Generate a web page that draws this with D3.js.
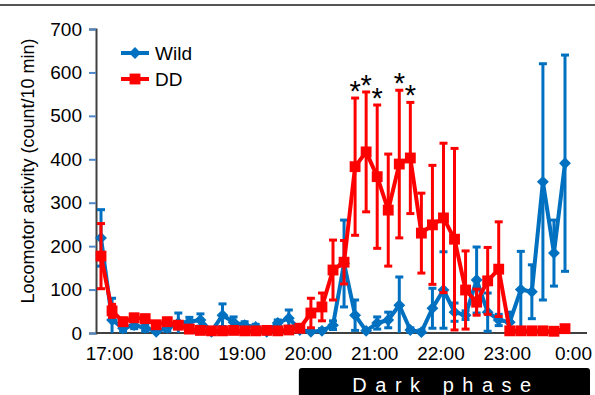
<!DOCTYPE html>
<html>
<head>
<meta charset="utf-8">
<script src="https://cdn.jsdelivr.net/npm/d3@7"></script>
<style>
  body { margin: 0; background: #fff; }
  svg { font-family: "Liberation Sans", Arial, sans-serif; }
</style>
</head>
<body>
<div id="chart"></div>
<script>
// 10-min bins from 17:00 to 0:00
const timeLabels = ["17:00", "18:00", "19:00", "20:00", "21:00", "22:00", "23:00", "0:00"];
const wildMean = [219, 30, 11, 18, 12, 3, 12, 23, 26, 30, 3, 41, 25, 18, 14, 3, 23, 34, 7, 3, 5, 18,
  160, 41, 5, 23, 30, 64, 7, 2, 57, 99, 48, 41, 122, 48, 30, 25, 100, 95, 348, 184, 391];
const wildErr = [65, 50, 8, 8, 8, 8, 8, 23, 10, 14, 5, 26, 12, 8, 6, 5, 7, 19, 5, 5, 5, 10,
  100, 35, 5, 14, 18, 65, 5, 5, 46, 88, 21, 10, 76, 44, 13, 23, 88, 62, 272, 76, 249];
const ddMean = [177, 51, 26, 35, 33, 19, 26, 18, 9, 6, 5, 5, 6, 5, 5, 6, 5, 7, 11, 46,
  60, 145, 163, 383, 417, 360, 283, 389, 403, 230, 249, 265, 216, 99, 71, 120, 147, 5, 5, 5, 5, 4, 10];
const ddErr = [75, 15, 8, 8, 8, 6, 8, 6, 5, 3, 3, 3, 3, 3, 3, 3, 3, 3, 8, 34,
  32, 69, 50, 158, 138, 165, 129, 170, 128, 92, 137, 172, 209, 90, 30, 77, 109, 3, 3, 3, 3, 3, 3];
const starBins = [23, 24, 25, 27, 28];
const yTicks = [0, 100, 200, 300, 400, 500, 600, 700];

const width = 595, height = 395;
const blue = "#0070c0", red = "#ff0000";

const svg = d3.select("#chart").append("svg")
  .attr("width", width)
  .attr("height", height);

const x = d3.scaleLinear().domain([0, ddMean.length - 1]).range([101, 565]);
const y = d3.scaleLinear().domain([0, 700]).range([333, 29]);

// top frame line
svg.append("line")
  .attr("x1", 0).attr("x2", width).attr("y1", 5).attr("y2", 5)
  .attr("stroke", "#555").attr("stroke-width", 2);

// y axis
const yAxis = svg.append("g")
  .attr("transform", "translate(96,0)")
  .call(d3.axisLeft(y).tickValues(yTicks).tickSize(7).tickPadding(7));
yAxis.select(".domain").attr("stroke", "#404040").attr("stroke-width", 2);
yAxis.selectAll(".tick line").attr("stroke", "#4f87c9").attr("stroke-width", 2);
yAxis.selectAll(".tick text").style("font-size", "19px").attr("fill", "#000");

// x axis: labels every hour (6 bins)
const xAxis = svg.append("g")
  .attr("transform", "translate(0,333)")
  .call(d3.axisBottom(x)
    .tickValues(timeLabels.map((d, i) => i * 6))
    .tickFormat((d, i) => timeLabels[i])
    .tickSize(0).tickPadding(14));
xAxis.select(".domain").attr("d", "M96,0H587").attr("stroke", "#404040").attr("stroke-width", 2);
xAxis.selectAll(".tick text").attr("dx", 8).style("font-size", "19px").attr("fill", "#000");

svg.append("text")
  .attr("transform", "translate(34,171) rotate(-90)")
  .attr("text-anchor", "middle")
  .style("font-size", "18px")
  .text("Locomotor activity (count/10 min)");

function drawSeries(mean, err, color, marker, size) {
  const pts = mean.map((d, i) => ({ i: i, v: d, lo: Math.max(0, d - err[i]), hi: d + err[i] }));
  const g = svg.append("g");
  const bars = g.selectAll(".eb").data(pts).enter().append("g");
  bars.append("line")
    .attr("x1", d => x(d.i)).attr("x2", d => x(d.i))
    .attr("y1", d => y(d.lo)).attr("y2", d => y(d.hi))
    .attr("stroke", color).attr("stroke-width", 3);
  bars.append("line")
    .attr("x1", d => x(d.i) - 4).attr("x2", d => x(d.i) + 4)
    .attr("y1", d => y(d.hi)).attr("y2", d => y(d.hi))
    .attr("stroke", color).attr("stroke-width", 3);
  bars.filter(d => d.lo > 0).append("line")
    .attr("x1", d => x(d.i) - 4).attr("x2", d => x(d.i) + 4)
    .attr("y1", d => y(d.lo)).attr("y2", d => y(d.lo))
    .attr("stroke", color).attr("stroke-width", 3);

  g.append("path")
    .datum(pts)
    .attr("fill", "none")
    .attr("stroke", color)
    .attr("stroke-width", 4)
    .attr("stroke-linejoin", "round")
    .attr("d", d3.line().x(d => x(d.i)).y(d => y(d.v)));

  g.selectAll(".pt").data(pts).enter().append("path")
    .attr("transform", d => `translate(${x(d.i)},${y(d.v)})`)
    .attr("d", d3.symbol().type(marker).size(size))
    .attr("fill", color);
}

drawSeries(wildMean, wildErr, blue, d3.symbolDiamond2, 90);
drawSeries(ddMean, ddErr, red, d3.symbolSquare2, 150);

// significance marks
svg.selectAll(".star").data(starBins).enter().append("text")
  .attr("x", d => x(d))
  .attr("y", d => y(ddMean[d] + ddErr[d]) + 3)
  .attr("text-anchor", "middle")
  .style("font-size", "29px")
  .text("*");

// legend
const legend = svg.selectAll(".legend")
  .data([{ name: "Wild", color: blue, marker: d3.symbolDiamond2, size: 90 },
         { name: "DD", color: red, marker: d3.symbolSquare2, size: 150 }])
  .enter().append("g")
  .attr("transform", (d, i) => `translate(121,${53 + i * 26})`);
legend.append("line")
  .attr("x1", 0).attr("x2", 28)
  .attr("stroke", d => d.color).attr("stroke-width", 4);
legend.append("path")
  .attr("transform", "translate(14,0)")
  .attr("d", d => d3.symbol().type(d.marker).size(d.size)())
  .attr("fill", d => d.color);
legend.append("text")
  .attr("x", 34).attr("dy", "0.35em")
  .style("font-size", "19px")
  .text(d => d.name);

// dark phase bar
svg.append("rect")
  .attr("x", x(18) - 1).attr("y", 368)
  .attr("width", 591 - x(18)).attr("height", 40)
  .attr("rx", 3)
  .attr("fill", "#000");
svg.append("text")
  .attr("x", 446).attr("y", 392)
  .attr("text-anchor", "middle")
  .attr("fill", "#fff")
  .style("font-size", "20px")
  .style("letter-spacing", "8.5px")
  .text("Dark phase");
</script>
</body>
</html>
